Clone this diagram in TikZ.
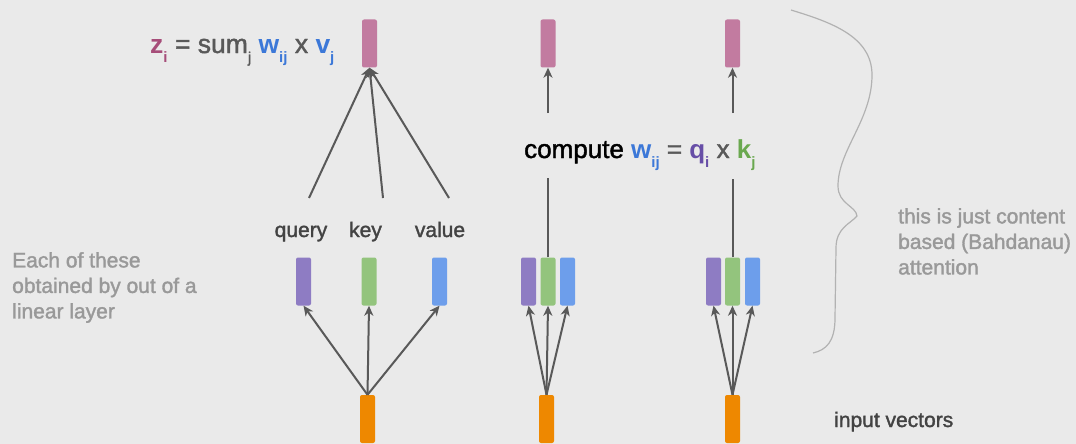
\documentclass[tikz,border=0pt]{standalone}
\usepackage{fontspec}
\setmainfont{Liberation Sans}[UprightFeatures={FakeBold=1.6}]
\usepackage{xcolor}
\usetikzlibrary{arrows.meta}
\definecolor{bggray}{HTML}{EAEAEA}
\definecolor{vecpink}{HTML}{C27BA0}
\definecolor{vecpurple}{HTML}{8E7CC3}
\definecolor{vecgreen}{HTML}{93C47D}
\definecolor{vecblue}{HTML}{6D9EEB}
\definecolor{vecorange}{HTML}{EE8800}
\definecolor{zpink}{HTML}{A64D79}
\definecolor{wblue}{HTML}{3C78D8}
\definecolor{qpurple}{HTML}{674EA7}
\definecolor{kgreen}{HTML}{6AA84F}
\definecolor{darktext}{HTML}{434343}
\definecolor{softtext}{HTML}{999999}
\definecolor{arrowgray}{HTML}{595959}
\tikzset{>={Stealth[length=10pt,width=9pt,inset=3pt]}}
\tikzstyle{vec} =
  [ rectangle
  , rounded corners=2pt
  , minimum width=15pt
  , minimum height=48pt
  , inner sep=0pt
  ]
\tikzstyle{pink_vec}   = [vec, fill=vecpink]
\tikzstyle{purple_vec} = [vec, fill=vecpurple]
\tikzstyle{green_vec}  = [vec, fill=vecgreen]
\tikzstyle{blue_vec}   = [vec, fill=vecblue]
\tikzstyle{orange_vec} = [vec, fill=vecorange]
\tikzstyle{link} =
  [ draw=arrowgray
  , line width=2pt
  ]
\tikzstyle{role_label} =
  [ text=darktext
  , font=\fontsize{21}{25}\selectfont
  , inner sep=0pt
  , anchor=base
  ]
\tikzstyle{side_note} =
  [ text=softtext
  , font=\fontsize{21}{25.5}\selectfont
  , align=left
  , inner sep=0pt
  , anchor=north west
  ]
\def\lowsub#1{\raisebox{-0.36em}{\fontsize{15}{15}\selectfont #1}}
\def\SumFormula{{\color{zpink}\bfseries z\lowsub{i}} = sum\lowsub{j} {\color{wblue}\bfseries w\lowsub{ij}} x {\color{wblue}\bfseries v\lowsub{j}}}
\def\ComputeFormula{compute {\color{wblue}\bfseries w\lowsub{ij}} {\color{arrowgray}=} {\color{qpurple}\bfseries q\lowsub{i}} {\color{arrowgray}x} {\color{kgreen}\bfseries k\lowsub{j}}}

\begin{document}
\begin{tikzpicture}[x=1pt, y=-1pt]
    \fill[bggray] (0,0) rectangle (1076,444);
    \useasboundingbox (0,0) rectangle (1076,444);

    % outputs
    \node[pink_vec] (out_one)   at (369.5, 43.5) {};
    \node[pink_vec] (out_two)   at (548,   43.5) {};
    \node[pink_vec] (out_three) at (732.5, 43.5) {};

    % query / key / value
    \node[purple_vec] (q_one)   at (303.5, 281.5) {};
    \node[green_vec]  (k_one)   at (369,   281.5) {};
    \node[blue_vec]   (v_one)   at (439.5, 281.5) {};
    \node[purple_vec] (q_two)   at (528.5, 281.5) {};
    \node[green_vec]  (k_two)   at (548,   281.5) {};
    \node[blue_vec]   (v_two)   at (567.5, 281.5) {};
    \node[purple_vec] (q_three) at (713.5, 281.5) {};
    \node[green_vec]  (k_three) at (732.5, 281.5) {};
    \node[blue_vec]   (v_three) at (752.5, 281.5) {};

    % inputs
    \node[orange_vec] (in_one)   at (367.5, 419) {};
    \node[orange_vec] (in_two)   at (546.5, 419) {};
    \node[orange_vec] (in_three) at (732.5, 419) {};

    \foreach \col in {one,two,three} {
      \draw[link,->] (in_\col.north) -- (q_\col.south);
      \draw[link,->] (in_\col.north) -- (k_\col.south);
      \draw[link,->] (in_\col.north) -- (v_\col.south);
    }

    % labels
    \node[role_label] (query_label) at (301,   237) {query};
    \node[role_label] (key_label)   at (365.5, 237) {key};
    \node[role_label] (value_label) at (440,   237) {value};

    \coordinate (query_top) at (309, 198);
    \coordinate (key_top)   at (383, 198);
    \coordinate (value_top) at (449, 198);
    \draw[link,->] (query_top) -- (out_one.south);
    \draw[link,->] (key_top)   -- (out_one.south);
    \draw[link,->] (value_top) -- (out_one.south);

    \node[inner sep=0pt, anchor=base west, text=arrowgray, font=\fontsize{26.5}{30}\selectfont]
      (sum_formula) at (150, 53) {\SumFormula};
    \node[inner sep=0pt, anchor=base west, text=black, font=\fontsize{26}{30}\selectfont]
      (compute_formula) at (524, 158) {\ComputeFormula};

    \coordinate (two_low)    at (548,   178);
    \coordinate (two_high)   at (548,   113);
    \coordinate (three_low)  at (732.5, 179);
    \coordinate (three_high) at (732.5, 113);
    \draw[link]    (k_two)      -- (two_low);
    \draw[link,->] (two_high)   -- (out_two);
    \draw[link]    (k_three)    -- (three_low);
    \draw[link,->] (three_high) -- (out_three);

    % brace
    \draw[softtext!75, line width=1.2pt]
      (791,10) .. controls (830,22) and (872,36) .. (872,75)
      .. controls (872,120) and (838,150) .. (838,186)
      .. controls (838,204) and (856,206) .. (857,216)
      .. controls (850,224) and (836,228) .. (836,248)
      -- (835,318)
      .. controls (835,342) and (826,350) .. (813,353);

    \node[side_note] (linear_note)  at (12, 252)
      {Each of these\\obtained by out of a\\linear layer};
    \node[side_note] (content_note) at (898, 208)
      {this is just content\\based (Bahdanau)\\attention};
    \node[role_label, anchor=base west] (input_label) at (834, 427) {input vectors};
\end{tikzpicture}
\end{document}
